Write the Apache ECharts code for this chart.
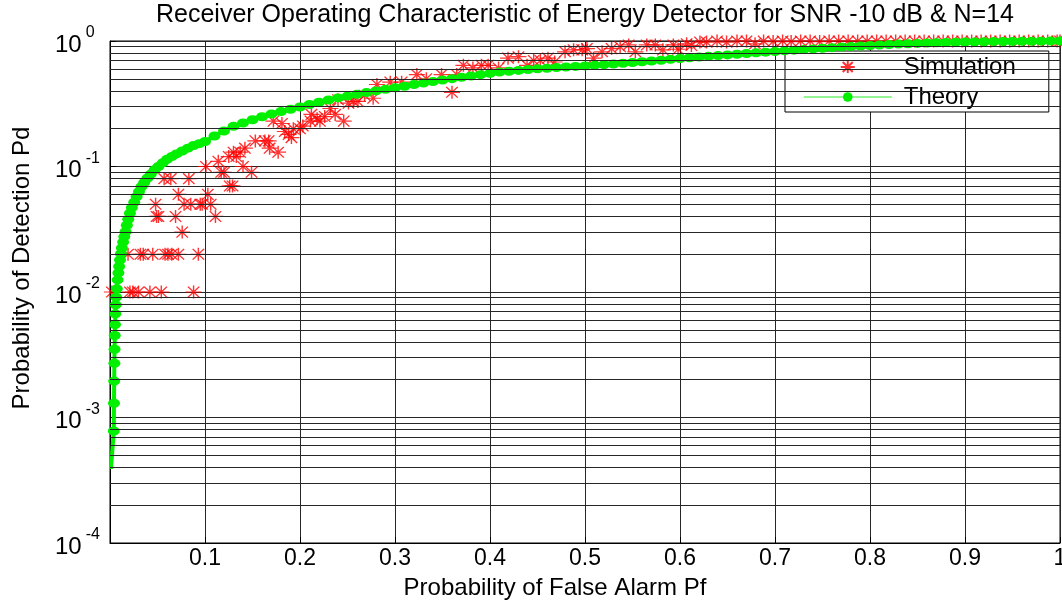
<!DOCTYPE html>
<html>
<head>
<meta charset="utf-8">
<script src="https://cdn.jsdelivr.net/npm/echarts@6.0.0/dist/echarts.min.js"></script>
<style>
html,body{margin:0;padding:0;background:#fff;}
#chart{width:1062px;height:601px;}
</style>
</head>
<body>
<div id="chart"></div>
<script>
const titleText = 'Receiver Operating Characteristic of Energy Detector for SNR -10 dB & N=14';
const xName = 'Probability of False Alarm Pf';
const yName = 'Probability of Detection Pd';
const seriesNames = ['Simulation', 'Theory'];

// Theory curve (Pf, Pd)
const theoryPf = [
  0.0010, 0.0040, 0.0042, 0.0044, 0.0046, 0.0048, 0.0050, 0.0053, 0.0056, 0.0060,
  0.0065, 0.0072, 0.0080, 0.0088, 0.0096, 0.0105, 0.0115, 0.0125, 0.0138, 0.0150,
  0.0163, 0.0177, 0.0192, 0.0210, 0.0230, 0.0255, 0.0280, 0.0305, 0.0330, 0.0360,
  0.0395, 0.0430, 0.0470, 0.0510, 0.0555, 0.0600, 0.0650, 0.0700, 0.0760, 0.0820,
  0.0880, 0.0940, 0.10,
  0.11, 0.12, 0.13, 0.14, 0.15, 0.16, 0.17, 0.18, 0.19, 0.20,
  0.21, 0.22, 0.23, 0.24, 0.25, 0.26, 0.27, 0.28, 0.29, 0.30,
  0.31, 0.32, 0.33, 0.34, 0.35, 0.36, 0.37, 0.38, 0.39, 0.40,
  0.41, 0.42, 0.43, 0.44, 0.45, 0.46, 0.47, 0.48, 0.49, 0.50,
  0.51, 0.52, 0.53, 0.54, 0.55, 0.56, 0.57, 0.58, 0.59, 0.60,
  0.61, 0.62, 0.63, 0.64, 0.65, 0.66, 0.67, 0.68, 0.69, 0.70,
  0.71, 0.72, 0.73, 0.74, 0.75, 0.76, 0.77, 0.78, 0.79, 0.80,
  0.81, 0.82, 0.83, 0.84, 0.85, 0.86, 0.87, 0.88, 0.89, 0.90,
  0.91, 0.92, 0.93, 0.94, 0.95, 0.96, 0.97, 0.98, 0.99, 1.00
];
const theoryPd = [
  0.00039, 0.00078, 0.0013, 0.00195, 0.0027, 0.0035, 0.0045, 0.0055, 0.0067, 0.0079,
  0.0091, 0.0106, 0.0125, 0.0142, 0.0160, 0.0180, 0.0202, 0.0224, 0.0250, 0.0276,
  0.0302, 0.0340, 0.0380, 0.0425, 0.0470, 0.0520, 0.0575, 0.0630, 0.0690, 0.0745,
  0.0810, 0.0870, 0.0940, 0.1000, 0.1070, 0.1140, 0.1200, 0.1260, 0.1330, 0.1400,
  0.1470, 0.1520, 0.158,
  0.175, 0.192, 0.209, 0.222, 0.236, 0.249, 0.262, 0.274, 0.286, 0.298,
  0.312, 0.325, 0.339, 0.352, 0.364, 0.376, 0.388, 0.400, 0.412, 0.424,
  0.436, 0.450, 0.463, 0.476, 0.488, 0.501, 0.514, 0.526, 0.539, 0.552,
  0.565, 0.574, 0.583, 0.593, 0.601, 0.607, 0.614, 0.620, 0.627, 0.633,
  0.640, 0.648, 0.656, 0.665, 0.674, 0.683, 0.693, 0.703, 0.714, 0.724,
  0.735, 0.745, 0.755, 0.765, 0.775, 0.785, 0.795, 0.805, 0.815, 0.825,
  0.835, 0.845, 0.855, 0.865, 0.875, 0.885, 0.894, 0.903, 0.912, 0.921,
  0.929, 0.937, 0.945, 0.951, 0.957, 0.964, 0.969, 0.973, 0.977, 0.981,
  0.984, 0.987, 0.989, 0.991, 0.993, 0.994, 0.996, 0.997, 0.999, 1.000
];

// Simulation points (Pf, Pd)
const simPf = [
  0.002, 0.021, 0.024, 0.030, 0.042, 0.054, 0.088,
  0.019, 0.032, 0.035, 0.045, 0.058, 0.061, 0.065, 0.072, 0.093,
  0.076,
  0.049, 0.051, 0.069, 0.111,
  0.048, 0.078, 0.085, 0.095, 0.097, 0.106,
  0.072, 0.103,
  0.126, 0.129,
  0.057, 0.064, 0.083,
  0.117, 0.120, 0.149,
  0.101, 0.140,
  0.114,
  0.125, 0.133,
  0.130, 0.137, 0.177,
  0.142, 0.168,
  0.153, 0.163, 0.167,
  0.191, 0.188, 0.184,
  0.193, 0.200, 0.203,
  0.181,
  0.172, 0.211, 0.221, 0.246,
  0.218, 0.226, 0.212, 0.237, 0.232, 0.251, 0.256, 0.261, 0.240, 0.277, 0.268, 0.360, 0.281, 0.295, 0.307, 0.333,
  0.323, 0.349, 0.365, 0.382, 0.409, 0.372, 0.391, 0.398, 0.439, 0.468, 0.446, 0.453, 0.419, 0.461, 0.509, 0.430,
  0.479, 0.518, 0.553, 0.488, 0.497, 0.582, 0.598, 0.502, 0.528, 0.537, 0.612, 0.546, 0.565, 0.574, 0.593,
  0.607, 0.679, 0.621, 0.628, 0.649, 0.698, 0.717, 0.747,
  0.639, 0.660, 0.670, 0.688, 0.708, 0.727, 0.737, 0.757, 0.767, 0.777, 0.787,
  0.797, 0.807, 0.817, 0.827, 0.837, 0.847, 0.857, 0.867, 0.877, 0.887, 0.897,
  0.907, 0.917, 0.927, 0.937, 0.947, 0.957, 0.967, 0.977, 0.987, 0.997, 1.000
];
const simPd = [
  0.01, 0.01, 0.01, 0.01, 0.01, 0.01, 0.01,
  0.02, 0.02, 0.02, 0.02, 0.02, 0.02, 0.02, 0.02, 0.02,
  0.03,
  0.04, 0.04, 0.04, 0.04,
  0.05, 0.05, 0.05, 0.05, 0.05, 0.05,
  0.06, 0.06,
  0.07, 0.07,
  0.08, 0.08, 0.08,
  0.09, 0.09, 0.09,
  0.10, 0.10,
  0.11,
  0.12, 0.12,
  0.13, 0.13, 0.13,
  0.14, 0.14,
  0.16, 0.16, 0.16,
  0.17, 0.18, 0.19,
  0.20, 0.20, 0.21,
  0.22,
  0.23, 0.23, 0.23, 0.23,
  0.24, 0.25, 0.26, 0.26, 0.29, 0.32, 0.33, 0.33, 0.34, 0.35, 0.37, 0.39, 0.45, 0.47, 0.47, 0.50,
  0.54, 0.54, 0.54, 0.61, 0.61, 0.64, 0.64, 0.64, 0.64, 0.68, 0.70, 0.70, 0.73, 0.73, 0.73, 0.75,
  0.82, 0.82, 0.82, 0.85, 0.85, 0.85, 0.86, 0.87, 0.87, 0.90, 0.92, 0.93, 0.93, 0.93, 0.93,
  0.95, 0.95, 0.98, 0.98, 0.98, 0.99, 0.99, 0.99,
  1, 1, 1, 1, 1, 1, 1, 1, 1, 1, 1,
  1, 1, 1, 1, 1, 1, 1, 1, 1, 1, 1,
  1, 1, 1, 1, 1, 1, 1, 1, 1, 1, 1
];

const xTickValues = [0.1, 0.2, 0.3, 0.4, 0.5, 0.6, 0.7, 0.8, 0.9, 1];

const FONT = '"Liberation Sans", Arial, Helvetica, sans-serif';
const GRID_COLOR = '#262626';
const GREEN = '#00f000';

const minorVals = [];
for (let d = -4; d < 0; d++) {
  for (let k = 2; k <= 9; k++) minorVals.push(k * Math.pow(10, d));
}

const asterisk = 'path://M7,0L7,12M0,6L14,6M2,1L12,11M2,11L12,1';

const chart = echarts.init(document.getElementById('chart'), null, {renderer: 'canvas'});
chart.setOption({
  animation: false,
  backgroundColor: '#fff',
  title: {
    text: titleText,
    left: 580,
    top: -2,
    textAlign: 'center',
    textStyle: {fontFamily: FONT, fontSize: 25, fontWeight: 'normal', color: '#000'}
  },
  legend: {
    data: seriesNames,
    orient: 'vertical',
    left: 785,
    top: 51,
    itemWidth: 88,
    itemHeight: 12,
    itemGap: 6,
    padding: [4, 33, 3, 18],
    backgroundColor: '#fff',
    borderColor: '#000',
    borderWidth: 1,
    selectedMode: false,
    lineStyle: {width: 1.5, color: '#70f070'},
    textStyle: {fontFamily: FONT, fontSize: 24, color: '#000', padding: [0, 0, 0, 7]}
  },
  grid: {
    left: 110, right: 2, top: 41, bottom: 58,
    containLabel: false,
    outerBoundsMode: 'none',
    show: true, borderColor: '#000', borderWidth: 1, backgroundColor: '#fff'
  },
  xAxis: {
    type: 'value',
    min: 0, max: 1, interval: 0.1,
    name: xName,
    nameLocation: 'middle',
    nameGap: 33,
    nameTextStyle: {fontFamily: FONT, fontSize: 24, color: '#000', padding: [0, 60, 0, 0]},
    axisLine: {show: true, lineStyle: {color: '#000', width: 1}},
    axisTick: {show: true, inside: true, length: 6, lineStyle: {color: '#000'}},
    axisLabel: {
      fontFamily: FONT, fontSize: 23, color: '#000', margin: 4,
      formatter: function (v) {
        const hit = xTickValues.find(t => Math.abs(t - v) < 1e-9);
        if (hit === undefined) return '';
        return hit === 1 ? '1' : hit.toFixed(1);
      }
    },
    splitLine: {show: true, lineStyle: {color: GRID_COLOR, width: 1}}
  },
  yAxis: {
    type: 'log',
    logBase: 10,
    min: 1e-4, max: 1,
    name: yName,
    nameLocation: 'middle',
    nameGap: 76,
    nameTextStyle: {fontFamily: FONT, fontSize: 24, color: '#000', padding: [0, 0, 0, 48]},
    axisLine: {show: true, lineStyle: {color: '#000', width: 1}},
    axisTick: {show: true, inside: true, length: 6, lineStyle: {color: '#000'}},
    axisLabel: {
      align: 'left',
      margin: 55,
      formatter: function (v) {
        const e = Math.round(Math.log10(v));
        return '{b|10}{g|\u200b}{s|' + e + '}';
      },
      rich: {
        b: {fontFamily: FONT, fontSize: 24, lineHeight: 24, color: '#000', verticalAlign: 'bottom'},
        g: {fontFamily: FONT, fontSize: 2, lineHeight: 32, width: 4, verticalAlign: 'middle'},
        s: {fontFamily: FONT, fontSize: 16, lineHeight: 20, color: '#000', verticalAlign: 'top'}
      }
    },
    splitLine: {show: true, lineStyle: {color: GRID_COLOR, width: 1}}
  },
  series: [
    {
      name: '_minorGrid',
      type: 'line',
      data: [],
      z: 1,
      silent: true,
      markLine: {
        silent: true,
        precision: 10,
        symbol: ['none', 'none'],
        label: {show: false},
        lineStyle: {color: GRID_COLOR, width: 1, type: 'solid'},
        data: minorVals.map(v => ({yAxis: v}))
      }
    },
    {
      name: seriesNames[0],
      type: 'scatter',
      data: simPf.map((p, i) => [p, simPd[i]]),
      symbol: asterisk,
      symbolSize: [16, 13],
      clip: false,
      z: 3,
      itemStyle: {color: 'rgba(255,0,0,0)', borderColor: '#ff0000', borderWidth: 1.3}
    },
    {
      name: seriesNames[1],
      type: 'line',
      data: theoryPf.map((p, i) => [p, theoryPd[i]]),
      symbol: 'circle',
      symbolSize: function (val, params) { return params.dataIndex === 0 ? 0 : [12, 9]; },
      showSymbol: true,
      showAllSymbol: true,
      clip: false,
      z: 4,
      itemStyle: {color: GREEN},
      lineStyle: {color: GREEN, width: 4}
    }
  ]
});
</script>
</body>
</html>
